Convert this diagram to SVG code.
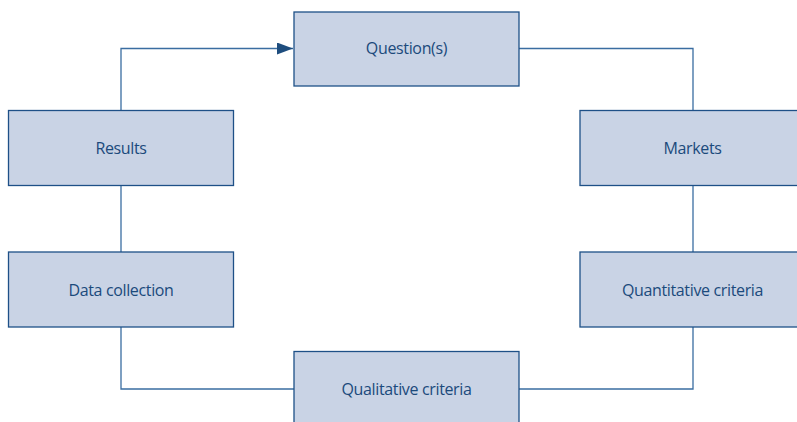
<svg xmlns="http://www.w3.org/2000/svg" width="797" height="422" viewBox="0 0 797 422">
  <style>
    .box { fill: #c9d3e5; stroke: #1e5087; stroke-width: 1.3; }
    .label { font-family: "Open Sans", "Liberation Sans", sans-serif; font-size: 16px; fill: #1b4a7c; text-anchor: middle; dominant-baseline: central; letter-spacing: -0.35px; }
    .wire { fill: none; stroke: #3a6da1; stroke-width: 1.3; }
  </style>
  <defs>
    <marker id="arrow" viewBox="0 0 16 12" refX="16" refY="6" markerWidth="16" markerHeight="12" markerUnits="userSpaceOnUse" orient="auto">
      <path d="M0,0 L16,6 L0,12 Z" fill="#1e4d7e"/>
    </marker>
  </defs>
  <rect width="797" height="422" fill="#ffffff"/>

  <g id="connectors">
    <path class="wire" d="M121,110 V48.5 H293" marker-end="url(#arrow)"/>
    <path class="wire" d="M519,48.5 H693 V110"/>
    <path class="wire" d="M693,185 V252"/>
    <path class="wire" d="M693,327 V389 H519"/>
    <path class="wire" d="M294,389 H121 V327"/>
    <path class="wire" d="M121,252 V185"/>
  </g>

  <g id="question">
    <rect class="box" x="294" y="12" width="225" height="74"/>
    <text class="label" x="406.5" y="48">Question(s)</text>
  </g>
  <g id="markets">
    <rect class="box" x="580" y="110.5" width="240" height="75"/>
    <text class="label" x="692.5" y="148">Markets</text>
  </g>
  <g id="quantitative-criteria">
    <rect class="box" x="580" y="252" width="240" height="75"/>
    <text class="label" x="692.5" y="290">Quantitative criteria</text>
  </g>
  <g id="qualitative-criteria">
    <rect class="box" x="294" y="351.5" width="225" height="90"/>
    <text class="label" x="406.5" y="389">Qualitative criteria</text>
  </g>
  <g id="data-collection">
    <rect class="box" x="8.5" y="252" width="225" height="75"/>
    <text class="label" x="121" y="290">Data collection</text>
  </g>
  <g id="results">
    <rect class="box" x="8.5" y="110.5" width="225" height="75"/>
    <text class="label" x="121" y="148">Results</text>
  </g>
</svg>
